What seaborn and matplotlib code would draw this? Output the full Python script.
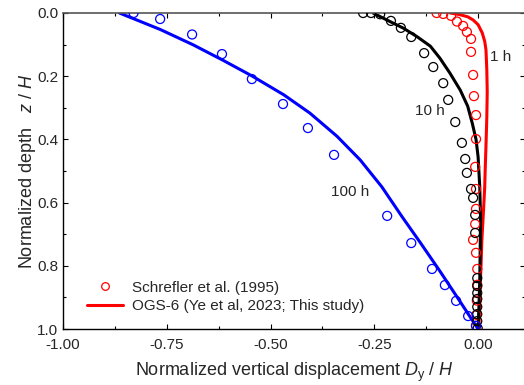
import numpy as np
import pandas as pd
import matplotlib
matplotlib.use("Agg")
import matplotlib.pyplot as plt
from matplotlib.lines import Line2D
from matplotlib.ticker import MultipleLocator, FormatStrFormatter
import seaborn as sns

# %% data (x = Dy/H, z = z/H)
# Schrefler et al. (1995) points
ref_1h_x = [-0.100, -0.084, -0.065, -0.051, -0.036, -0.027, -0.017, -0.017, -0.012, -0.010,
            -0.005, -0.005, -0.007, -0.005, -0.005, -0.007, -0.012, -0.005, -0.002, -0.002,
            -0.003, -0.004, -0.005]
ref_1h_z = [0.000, 0.003, 0.009, 0.027, 0.041, 0.060, 0.082, 0.123, 0.196, 0.263,
            0.323, 0.399, 0.487, 0.557, 0.620, 0.668, 0.718, 0.759, 0.810, 0.860,
            0.910, 0.955, 0.990]

ref_10h_x = [-0.277, -0.258, -0.236, -0.210, -0.186, -0.161, -0.130, -0.108, -0.084, -0.072,
             -0.055, -0.039, -0.031, -0.027, -0.017, -0.012, -0.007, -0.007, -0.002, -0.002,
             -0.002, -0.002, -0.002, -0.002, -0.002, -0.001]
ref_10h_z = [0.000, 0.000, 0.004, 0.025, 0.047, 0.076, 0.127, 0.171, 0.222, 0.275,
             0.345, 0.411, 0.462, 0.506, 0.557, 0.585, 0.639, 0.696, 0.839, 0.864,
             0.886, 0.905, 0.930, 0.953, 0.975, 0.998]

ref_100h_x = [-0.830, -0.766, -0.689, -0.617, -0.545, -0.470, -0.410, -0.347, -0.219, -0.161,
              -0.111, -0.080, -0.053, -0.024, -0.005]
ref_100h_z = [0.000, 0.019, 0.068, 0.130, 0.209, 0.288, 0.364, 0.449, 0.642, 0.728,
              0.810, 0.861, 0.911, 0.959, 0.990]

# OGS-6 curves
ogs_1h_x = [-0.067, -0.045, -0.025, -0.012, 0.000, 0.010, 0.016, 0.019, 0.021, 0.022,
            0.021, 0.019, 0.017, 0.016, 0.012, 0.009, 0.007, 0.004, 0.002]
ogs_1h_z = [0.000, 0.005, 0.012, 0.022, 0.037, 0.063, 0.090, 0.117, 0.180, 0.250,
            0.330, 0.420, 0.500, 0.550, 0.650, 0.720, 0.800, 0.900, 1.000]

ogs_10h_x = [-0.253, -0.220, -0.180, -0.147, -0.115, -0.092, -0.068, -0.043, -0.025, -0.014,
             -0.005, 0.000, 0.004, 0.006, 0.005, 0.004, 0.002, 0.000]
ogs_10h_z = [0.000, 0.022, 0.048, 0.075, 0.105, 0.143, 0.190, 0.244, 0.295, 0.349,
             0.400, 0.455, 0.550, 0.650, 0.750, 0.850, 0.930, 1.000]

ogs_100h_x = [-0.864, -0.766, -0.686, -0.614, -0.545, -0.468, -0.405, -0.340, -0.284, -0.232,
              -0.183, -0.138, -0.094, -0.046, 0.000]
ogs_100h_z = [0.000, 0.052, 0.101, 0.150, 0.199, 0.259, 0.317, 0.390, 0.465, 0.550,
              0.645, 0.729, 0.813, 0.908, 1.000]

times = ["1 h", "10 h", "100 h"]
colors = ["#ff0000", "#000000", "#0000ff"]
label_x = [0.055, -0.116, -0.308]
label_z = [0.138, 0.310, 0.566]

# %% style
sns.set_style("ticks")
plt.rcParams["font.family"] = ["Liberation Sans", "DejaVu Sans"]
plt.rcParams["mathtext.fontset"] = "custom"
plt.rcParams["mathtext.rm"] = "Liberation Sans"
plt.rcParams["mathtext.it"] = "Liberation Sans:italic"
plt.rcParams["axes.unicode_minus"] = False

fig = plt.figure(figsize = (5.24, 3.85), dpi = 100)
ax = fig.add_axes([63 / 524, 1 - 329 / 385, 462 / 524, 316 / 385])

refs = [(ref_1h_x, ref_1h_z), (ref_10h_x, ref_10h_z), (ref_100h_x, ref_100h_z)]
ogs = [(ogs_1h_x, ogs_1h_z), (ogs_10h_x, ogs_10h_z), (ogs_100h_x, ogs_100h_z)]

for (lx, lz), (px, pz), c in zip(ogs, refs, colors):
    sns.lineplot(x = lx, y = lz, sort = False, estimator = None, color = c,
                 linewidth = 2.2, ax = ax, legend = False)
    sns.scatterplot(x = px, y = pz, color = c, facecolor = "none", edgecolor = c,
                    marker = "o", s = 42, linewidth = 0.9, ax = ax, legend = False,
                    zorder = 3)

for t, x, z in zip(times, label_x, label_z):
    ax.text(x, z, t, fontsize = 11, ha = "center", va = "center")

ax.set_xlim(-1.0, 0.113)
ax.set_ylim(1.0, 0.0)
ax.xaxis.set_major_locator(MultipleLocator(0.25))
ax.xaxis.set_minor_locator(MultipleLocator(0.125))
ax.yaxis.set_major_locator(MultipleLocator(0.2))
ax.yaxis.set_minor_locator(MultipleLocator(0.1))
ax.xaxis.set_major_formatter(FormatStrFormatter("%.2f"))
ax.yaxis.set_major_formatter(FormatStrFormatter("%.1f"))
ax.tick_params(which = "both", direction = "in", top = True, right = True,
               labelsize = 11, width = 0.8, color = "black")
ax.tick_params(which = "major", length = 3.8)
ax.tick_params(axis = "x", which = "major", pad = 6.5)
ax.tick_params(which = "minor", length = 2.3)
for side in ["left", "bottom", "right"]:
    ax.spines[side].set_linewidth(1.0)
    ax.spines[side].set_color("black")
ax.spines["top"].set_linewidth(1.2)
ax.spines["top"].set_color("#555555")

ax.set_xlabel(r"Normalized vertical displacement $D_{\mathrm{y}}$ / $H$", fontsize = 13, labelpad = 6)
ax.set_ylabel(r"Normalized depth   $z$ / $H$", fontsize = 13, labelpad = -1)

handles = [
    Line2D([], [], linestyle = "none", marker = "o", markersize = 5.5, markerfacecolor = "none",
           markeredgecolor = "#ff0000", markeredgewidth = 0.9),
    Line2D([], [], color = "#ff0000", linewidth = 2.2),
]
ax.legend(handles, ["Schrefler et al. (1995)", "OGS-6 (Ye et al, 2023; This study)"],
          loc = "lower left", bbox_to_anchor = (0.023, 0.006), frameon = False, fontsize = 11,
          handlelength = 2.3, handletextpad = 0.6, labelspacing = 0.3)

fig.savefig("out.png", dpi = 100)
